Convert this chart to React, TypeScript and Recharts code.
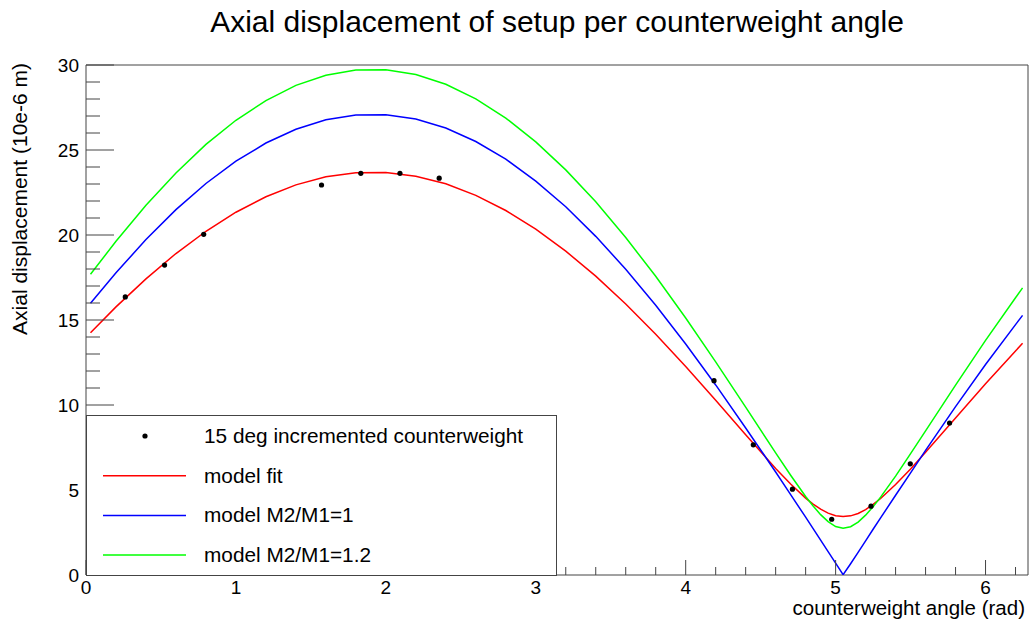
import React from 'react';
import { ComposedChart, Line, Scatter, XAxis, YAxis, ReferenceArea } from 'recharts';

// model curves, sampled along the counterweight angle (rad)
const angle = [0.03, 0.2, 0.4, 0.6, 0.8, 1.0, 1.2, 1.4, 1.6, 1.8, 2.0, 2.2, 2.4, 2.6, 2.8, 3.0, 3.2, 3.4, 3.6, 3.8, 4.0, 4.2, 4.4, 4.6, 4.7, 4.8, 4.85, 4.9, 4.95, 5.0, 5.05, 5.1, 5.15, 5.2, 5.25, 5.3, 5.4, 5.5, 5.6, 5.8, 6.0, 6.2, 6.247];
const modelFit = [14.25, 15.77, 17.42, 18.91, 20.22, 21.34, 22.25, 22.95, 23.42, 23.66, 23.67, 23.45, 23.01, 22.33, 21.44, 20.34, 19.05, 17.58, 15.94, 14.16, 12.26, 10.28, 8.25, 6.27, 5.35, 4.52, 4.17, 3.87, 3.64, 3.49, 3.44, 3.48, 3.62, 3.85, 4.15, 4.5, 5.32, 6.24, 7.22, 9.23, 11.25, 13.18, 13.63];
const modelRatio1 = [15.98, 17.78, 19.73, 21.49, 23.03, 24.34, 25.41, 26.22, 26.78, 27.06, 27.07, 26.82, 26.29, 25.5, 24.46, 23.17, 21.66, 19.92, 17.99, 15.87, 13.59, 11.18, 8.65, 6.06, 4.73, 3.4, 2.73, 2.05, 1.38, 0.7, 0.02, 0.66, 1.33, 2.01, 2.69, 3.36, 4.69, 6.01, 7.33, 9.9, 12.38, 14.73, 15.27];
const modelRatio12 = [17.69, 19.63, 21.75, 23.65, 25.33, 26.75, 27.91, 28.8, 29.4, 29.71, 29.72, 29.44, 28.87, 28.01, 26.88, 25.48, 23.83, 21.95, 19.85, 17.57, 15.12, 12.54, 9.87, 7.18, 5.87, 4.62, 4.06, 3.55, 3.14, 2.85, 2.75, 2.84, 3.11, 3.52, 4.02, 4.58, 5.82, 7.14, 8.48, 11.17, 13.8, 16.31, 16.89];

// measured points, 15 deg steps
const measAngle = [0.262, 0.524, 0.785, 1.571, 1.833, 2.094, 2.356, 4.189, 4.451, 4.712, 4.974, 5.236, 5.498, 5.76];
const measDisp = [16.36, 18.23, 20.04, 22.94, 23.63, 23.63, 23.34, 11.43, 7.66, 5.05, 3.28, 4.05, 6.54, 8.94];

const seriesNames = ['model fit', 'model M2/M1=1', 'model M2/M1=1.2'];
const seriesColors = ['#ff0000', '#0000ff', '#00ff00'];
const measName = '15 deg incremented counterweight';

const xMajor = [0, 1, 2, 3, 4, 5, 6];
const xTicks = Array.from({ length: 32 }, (_, i) => Math.round(i * 2) / 10);
const yTicks = Array.from({ length: 31 }, (_, i) => i);
const yMajor = [0, 5, 10, 15, 20, 25, 30];

const title = 'Axial displacement of setup per counterweight angle';
const xTitle = 'counterweight angle (rad)';
const yTitle = 'Axial displacement (10e-6 m)';

const W = 1030;
const H = 621;
const FONT = '"Liberation Sans", Arial, Helvetica, sans-serif';
const AXIS = '#444';

const toPts = (xs: number[], ys: number[]) => xs.map((x, i) => ({ x, y: ys[i] }));
const curves = [modelFit, modelRatio1, modelRatio12].map((v) => toPts(angle, v));
const measured = toPts(measAngle, measDisp);

const XTick = (props: any) => {
  const { x, y, payload } = props;
  const v = payload.value;
  const major = xMajor.some((m) => Math.abs(m - v) < 1e-6);
  return (
    <g>
      <line x1={x} y1={y} x2={x} y2={y - (major ? 15 : 8)} stroke={AXIS} />
      {major && (
        <text x={x} y={y + 19} textAnchor="middle" fontSize={19} fontFamily={FONT} fill="#000">
          {v}
        </text>
      )}
    </g>
  );
};

const YTick = (props: any) => {
  const { x, y, payload } = props;
  const v = payload.value;
  const major = yMajor.includes(v);
  return (
    <g>
      <line x1={x} y1={y} x2={x + (major ? 28 : 14)} y2={y} stroke={AXIS} />
      {major && (
        <text x={x - 7} y={y} dy={7} textAnchor="end" fontSize={19} fontFamily={FONT} fill="#000">
          {v}
        </text>
      )}
    </g>
  );
};

const Dot = (props: any) => <circle cx={props.cx} cy={props.cy} r={2.6} fill="#000" />;

const legendRows = [
  { name: measName, color: '#000', dot: true },
  ...seriesNames.map((name, i) => ({ name, color: seriesColors[i], dot: false })),
];

export default function App() {
  return (
    <div style={{ position: 'absolute', left: 0, top: 0, width: W, height: H, background: '#fff' }}>
      <ComposedChart width={W} height={H} margin={{ top: 65, right: 2, bottom: 0, left: 0 }}>
        <XAxis
          dataKey="x"
          type="number"
          domain={[0, 6.2832]}
          ticks={xTicks}
          interval={0}
          height={46}
          axisLine={false}
          tickLine={false}
          tickSize={0}
          tickMargin={0}
          tick={<XTick />}
          allowDataOverflow
        />
        <YAxis
          type="number"
          domain={[0, 30]}
          ticks={yTicks}
          interval={0}
          width={86}
          axisLine={false}
          tickLine={false}
          tickSize={0}
          tickMargin={0}
          tick={<YTick />}
          allowDataOverflow
        />
        <ReferenceArea x1={0} x2={6.2832} y1={0} y2={30} fill="none" stroke={AXIS} strokeWidth={1} />
        {curves.map((pts, i) => (
          <Line
            key={seriesNames[i]}
            data={pts}
            dataKey="y"
            name={seriesNames[i]}
            type="linear"
            stroke={seriesColors[i]}
            strokeWidth={1.5}
            dot={false}
            activeDot={false}
            isAnimationActive={false}
          />
        ))}
        <Scatter data={measured} dataKey="y" name={measName} shape={<Dot />} isAnimationActive={false} />
      </ComposedChart>
      <svg
        width={W}
        height={H}
        style={{ position: 'absolute', left: 0, top: 0, pointerEvents: 'none' }}
        fontFamily={FONT}
      >
        <text x={557} y={32} textAnchor="middle" fontSize={30} fill="#000">
          {title}
        </text>
        <text x={1025} y={615} textAnchor="end" fontSize={20.5} fill="#000">
          {xTitle}
        </text>
        <text transform="rotate(-90)" x={-63} y={27} textAnchor="end" fontSize={21} fill="#000">
          {yTitle}
        </text>
        <g transform="translate(86,415)">
          <rect x={0.5} y={0.5} width={470} height={160} fill="#fff" stroke={AXIS} />
          {legendRows.map((row, i) => {
            const cy = 21 + i * 39.7;
            return (
              <g key={row.name}>
                {row.dot ? (
                  <circle cx={59} cy={cy} r={2.6} fill={row.color} />
                ) : (
                  <line x1={17} y1={cy} x2={100} y2={cy} stroke={row.color} strokeWidth={1.5} />
                )}
                <text x={118} y={cy + 7} fontSize={20.8} fill="#000">
                  {row.name}
                </text>
              </g>
            );
          })}
        </g>
      </svg>
    </div>
  );
}
